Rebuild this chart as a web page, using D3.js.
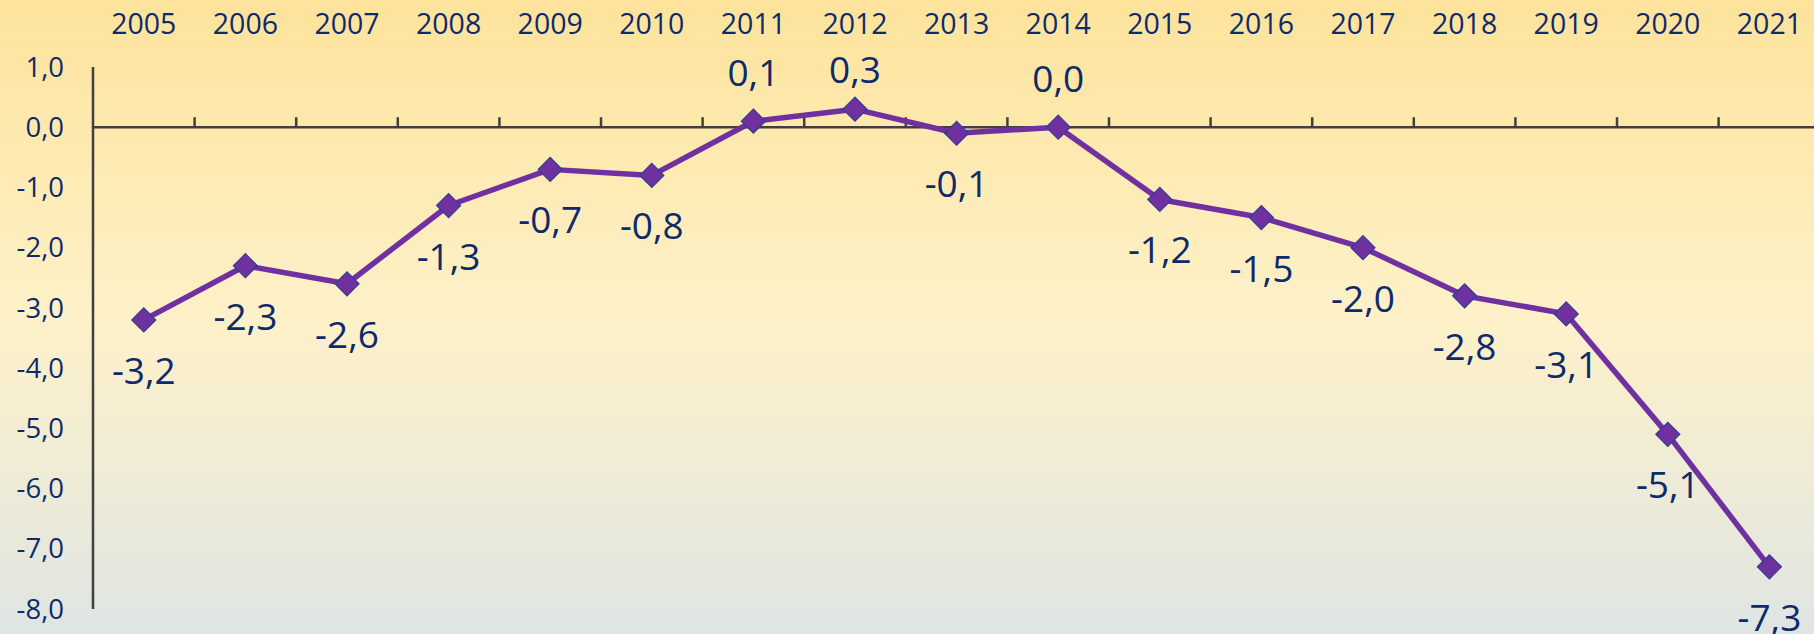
<!DOCTYPE html>
<html lang="en">
    <head>
        <meta charset="UTF-8">
        <title>line chart</title>
        <style>
            body { margin: 0; }
            svg { display: block; }
        </style>
    </head>
    <script src="https://d3js.org/d3.v7.min.js"></script>
    <body>
        <script>
            const years = ["2005","2006","2007","2008","2009","2010","2011","2012","2013","2014","2015","2016","2017","2018","2019","2020","2021"]
            const values = [-3.2, -2.3, -2.6, -1.3, -0.7, -0.8, 0.1, 0.3, -0.1, 0.0, -1.2, -1.5, -2.0, -2.8, -3.1, -5.1, -7.3]
            // where the value label sits: above or below the point
            const labelPos = ["b","b","b","b","b","b","a","a","b","a","b","b","b","b","b","b","b"]
            const yTicks = [1, 0, -1, -2, -3, -4, -5, -6, -7, -8]

            const width = 1814
            const height = 634
            const font = "'Open Sans', 'DejaVu Sans', sans-serif"
            const textColor = "#0e2a6a"
            const fmt = v => d3.format(".1f")(v).replace(".", ",").replace("−", "-")

            var svg = d3.select("body").append("svg")
                .attr("width", width)
                .attr("height", height)

            // background gradient
            var grad = svg.append("defs").append("linearGradient")
                .attr("id", "bg").attr("x1", 0).attr("y1", 0).attr("x2", 0).attr("y2", 1)
            grad.append("stop").attr("offset", "0%").attr("stop-color", "#fde39b")
            grad.append("stop").attr("offset", "50%").attr("stop-color", "#fef1c9")
            grad.append("stop").attr("offset", "100%").attr("stop-color", "#dfe5e3")
            svg.append("rect").attr("width", width).attr("height", height).attr("fill", "url(#bg)")

            var x = d3.scaleBand().domain(years).range([93, 93 + 17 * 101.6])
            var y = d3.scaleLinear().domain([-8, 1]).range([609, 67])
            var cx = d => x(d) + x.bandwidth() / 2

            // y axis line + labels
            svg.append("line")
                .attr("x1", 93).attr("x2", 93)
                .attr("y1", y(1)).attr("y2", y(-8))
                .attr("stroke", "#404040").attr("stroke-width", 2.5)

            svg.selectAll(".ylab").data(yTicks).enter().append("text")
                .attr("x", 64)
                .attr("y", d => y(d))
                .attr("dy", "0.35em")
                .attr("text-anchor", "end")
                .attr("fill", textColor)
                .style("font-family", font)
                .style("font-size", "27.5px")
                .text(d => fmt(d))

            // zero line with ticks pointing up
            svg.append("line")
                .attr("x1", 93).attr("x2", width)
                .attr("y1", y(0)).attr("y2", y(0))
                .attr("stroke", "#404040").attr("stroke-width", 2.5)

            svg.selectAll(".xtick").data(years).enter().append("line")
                .attr("x1", (d, i) => x.range()[0] + (i + 1) * x.step())
                .attr("x2", (d, i) => x.range()[0] + (i + 1) * x.step())
                .attr("y1", y(0)).attr("y2", y(0) - 10)
                .attr("stroke", "#404040").attr("stroke-width", 2.5)

            // year labels on top
            svg.selectAll(".xlab").data(years).enter().append("text")
                .attr("x", d => cx(d))
                .attr("y", 34)
                .attr("text-anchor", "middle")
                .attr("fill", textColor)
                .style("font-family", font)
                .style("font-size", "28.5px")
                .text(d => d)

            // the line
            var line = d3.line()
                .x((d, i) => cx(years[i]))
                .y(d => y(d))

            svg.append("path")
                .datum(values)
                .attr("fill", "none")
                .attr("stroke", "#7030a0")
                .attr("stroke-width", 5.5)
                .attr("stroke-linejoin", "round")
                .attr("d", line)

            // diamond markers
            var sym = d3.symbol().type(d3.symbolSquare).size(17 * 17)
            svg.selectAll(".pt").data(values).enter().append("path")
                .attr("d", sym)
                .attr("transform", (d, i) => `translate(${cx(years[i])}, ${y(d)}) rotate(45)`)
                .attr("fill", "#7030a0")
                .attr("stroke", "#2f3f93")
                .attr("stroke-width", 1.2)

            // value labels (labels above the line share one baseline)
            svg.selectAll(".vlab").data(values).enter().append("text")
                .attr("x", (d, i) => cx(years[i]))
                .attr("y", (d, i) => labelPos[i] == "a" ? Math.max(y(d) - 35, 83) : y(d) + 64)
                .attr("text-anchor", "middle")
                .attr("fill", textColor)
                .style("font-family", font)
                .style("font-size", "37px")
                .text(d => fmt(d))
        </script>
    </body>
</html>
